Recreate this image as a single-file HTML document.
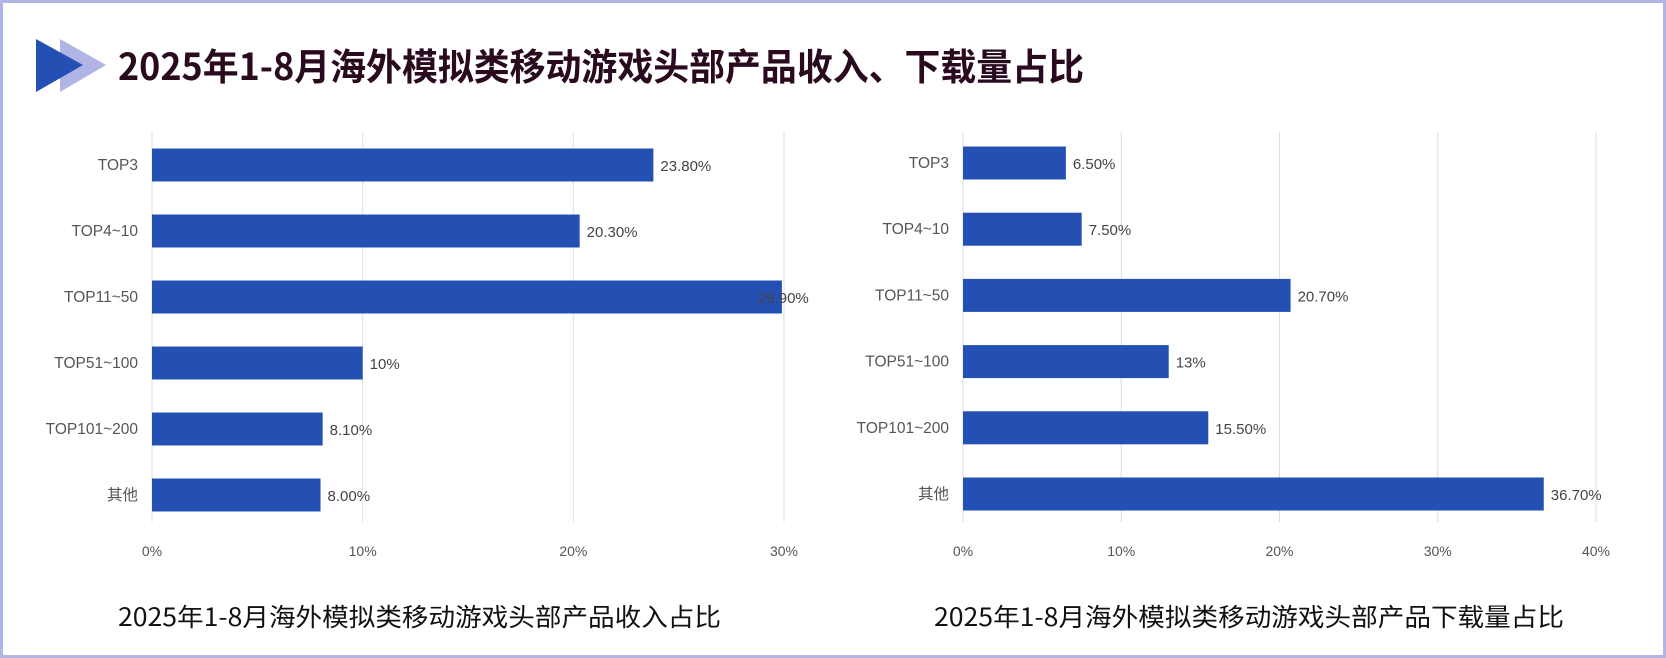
<!DOCTYPE html>
<html><head><meta charset="utf-8">
<style>
html,body{margin:0;padding:0;background:#fff;}
body{width:1666px;height:658px;overflow:hidden;position:relative;font-family:"Liberation Sans","Noto Sans CJK SC",sans-serif;}
#frame{position:absolute;left:0;top:0;width:1660px;height:652px;border:3px solid #b0b5e6;}
svg{position:absolute;left:0;top:0;}
</style></head>
<body>
<div id="frame"></div>
<svg id="chart" width="1666" height="658">
  <polygon points="60,39 106,65 60,92" fill="#b0b5e6"/>
  <polygon points="36,39 83,65 36,92" fill="#2450b4"/>
  <text x="118" y="80" font-size="37" font-weight="bold" fill="#2a0a1e" textLength="966" lengthAdjust="spacingAndGlyphs" font-family="Noto Sans CJK SC, sans-serif">2025年1-8月海外模拟类移动游戏头部产品收入、下载量占比</text>
  <text x="118" y="626" font-size="25" fill="#111" textLength="603" lengthAdjust="spacingAndGlyphs" font-family="Noto Sans CJK SC, sans-serif">2025年1-8月海外模拟类移动游戏头部产品收入占比</text>
  <text x="934" y="626" font-size="25" fill="#111" textLength="630" lengthAdjust="spacingAndGlyphs" font-family="Noto Sans CJK SC, sans-serif">2025年1-8月海外模拟类移动游戏头部产品下载量占比</text>
</svg>
<script>
const categories = ["TOP3","TOP4~10","TOP11~50","TOP51~100","TOP101~200","其他"];
const revenueValues = [23.8,20.3,29.9,10,8.1,8.0];
const revenueLabels = ["23.80%","20.30%","29.90%","10%","8.10%","8.00%"];
const downloadValues = [6.5,7.5,20.7,13,15.5,36.7];
const downloadLabels = ["6.50%","7.50%","20.70%","13%","15.50%","36.70%"];
const revenueTicks = [0,10,20,30];
const downloadTicks = [0,10,20,30,40];

const NS="http://www.w3.org/2000/svg";
const svg=document.getElementById('chart');
function mk(tag,attrs,parent){const e=document.createElementNS(NS,tag);for(const k in attrs)e.setAttribute(k,attrs[k]);(parent||svg).appendChild(e);return e;}

function drawChart(cfg){
  const g=mk('g',{});
  
  
  const x=v=>cfg.x0+(v/cfg.max)*(cfg.x1-cfg.x0);
  const y=i=>cfg.yc0+i*cfg.step;
  cfg.ticks.forEach(t=>{
    const l=mk('line',{x1:x(t),x2:x(t),y1:132,y2:522,stroke:'#dedede','stroke-width':1},g);
    
    
    const tx=mk('text',{x:x(t),y:556,'text-anchor':'middle','font-size':14,fill:'#555'},g);
    tx.textContent=t+'%';
    
    
  });
  categories.forEach((c,i)=>{
    const cy=y(i);
    const lb=mk('text',{x:cfg.x0-14,y:cy+5,'text-anchor':'end','font-size':15.5,fill:'#555'},g);
    lb.textContent=c;
    
    
    const b=mk('rect',{x:x(0),y:cy-16.5,width:x(cfg.values[i])-x(0),height:33,fill:'#2450b4'},g);
    
    
    let lx=x(cfg.values[i])+7;
    if(lx>cfg.x1-5) lx=x(cfg.values[i])-24;
    const v=mk('text',{x:lx,y:cy+6,'font-size':15,fill:'#444'},g);
    v.textContent=cfg.labels[i];
    
    
  });
}
drawChart({name:'revenue-chart',x0:152,x1:784,max:30,yc0:165,step:66,ticks:revenueTicks,values:revenueValues,labels:revenueLabels});
drawChart({name:'download-chart',x0:963,x1:1596,max:40,yc0:163,step:66.2,ticks:downloadTicks,values:downloadValues,labels:downloadLabels});
</script>
</body></html>
